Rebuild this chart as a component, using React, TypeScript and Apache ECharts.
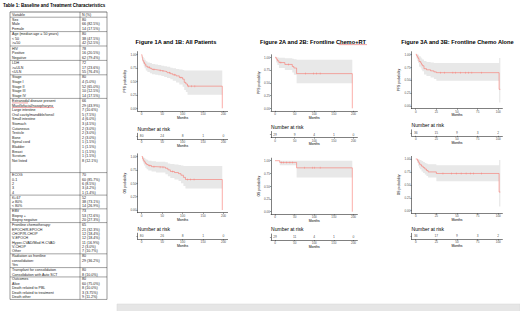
import React, { useEffect, useRef } from 'react';
import * as echarts from 'echarts';

// ---------------- DATA ----------------
const grpHeader = [['Variable', 'N (%)']];
const grpSex = [['Sex', '80'], ['Male', '66 (82.5%)'], ['Female', '14 (17.5%)']];
const grpAge = [['Age (median age = 50 years)', '80'], ['< 50', '38 (47.5%)'], ['>=50', '42 (52.5%)']];
const grpHiv = [['HIV', '78'], ['Positive', '16 (20.5%)'], ['Negative', '62 (79.4%)']];
const grpLdh = [['LDH', '72'], ['>=ULN', '17 (23.6%)'], ['<ULN', '55 (76.4%)']];
const grpStage = [['Stage', '80'], ['Stage I', '4 (5.0%)'], ['Stage II', '52 (65.0%)'], ['Stage III', '10 (12.5%)'], ['Stage IV', '14 (17.5%)']];
const grpExtranodal = [
  ['Extranodal disease present', '66'], ['Maxillofacial/nasopharynx', '29 (43.9%)'], ['Large intestine', '7 (10.6%)'],
  ['Oral cavity/mandible/tonsil', '5 (7.5%)'], ['Small intestine', '4 (6.0%)'], ['Stomach', '3 (4.5%)'],
  ['Cutaneous', '2 (3.0%)'], ['Testicle', '2 (3.0%)'], ['Bone', '2 (3.0%)'], ['Spinal cord', '1 (1.5%)'],
  ['Bladder', '1 (1.5%)'], ['Breast', '1 (1.5%)'], ['Scrotum', '1 (1.5%)'], ['Not listed', '8 (12.1%)'], ['', ''], ['', ''],
];
const grpEcog = [['ECOG', '70'], ['0-1', '60 (85.7%)'], ['2', '6 (8.5%)'], ['3', '3 (4.2%)'], ['4', '1 (1.4%)']];
const grpKi67 = [['Ki-67', '52'], ['\u2265 80%', '38 (73.1%)'], ['< 80%', '14 (26.9%)']];
const grpEbv = [['EBV', '73'], ['Biopsy +', '53 (72.6%)'], ['Biopsy negative', '20 (27.3%)']];
const grpChemo = [
  ['Frontline chemotherapy:', '65'], ['EPOCH/R-EPOCH', '21 (32.3%)'], ['CHOP/R-CHOP', '12 (18.4%)'], ['V-EPOCH', '12 (18.4%)'],
  ['Hyper-CVAD/Mod H-CVAD', '11 (16.9%)'], ['V-CHOP', '2 (3.0%)'], ['Other', '7 (10.7%)'],
];
const grpRadiation = [['Radiation as frontline', '80'], ['consolidation:', '29 (36.2%)'], ['Yes', '']];
const grpTransplant = [['Transplant for consolidation', '80'], ['Consolidation with Auto SCT', '8 (10.0%)']];
const grpOutcomes = [
  ['Outcomes', '80'], ['Alive', '60 (75.0%)'], ['Death related to PBL', '8 (10.0%)'],
  ['Death related to treatment', '3 (3.75%)'], ['Death other', '9 (11.2%)'],
];
const tableGroups = [grpHeader, grpSex, grpAge, grpHiv, grpLdh, grpStage, grpExtranodal, grpEcog, grpKi67, grpEbv, grpChemo, grpRadiation, grpTransplant, grpOutcomes];

const tableTitle = 'Table 1: Baseline and Treatment Characteristics';
const figureTitles = ['Figure 1A and 1B: All Patients', 'Figure 2A and 2B: Frontline Chemo+RT', 'Figure 3A and 3B: Frontline Chemo Alone'];

const yTicks = [0, 0.25, 0.5, 0.75, 1];
const xTicks200 = [0, 50, 100, 150, 200];
const xTicks100 = [0, 25, 50, 75, 100];

// Fig 1A: all patients PFS
const allPfsTimes = [0, 1, 2, 3, 5, 7, 10, 14, 20, 25, 33, 40, 48, 55, 62, 70, 76, 84, 92, 100, 104, 108, 112, 197];
const allPfsSurv = [1, 0.96, 0.92, 0.88, 0.85, 0.82, 0.78, 0.76, 0.74, 0.72, 0.71, 0.7, 0.69, 0.68, 0.66, 0.64, 0.62, 0.6, 0.57, 0.54, 0.48, 0.45, 0.41, 0];
const allPfsHi = [1, 0.99, 0.97, 0.95, 0.93, 0.9, 0.87, 0.85, 0.84, 0.82, 0.81, 0.8, 0.79, 0.78, 0.77, 0.75, 0.74, 0.73, 0.72, 0.71, 0.7, 0.7, 0.7, 0.7];
const allPfsLo = [1, 0.92, 0.86, 0.82, 0.78, 0.74, 0.7, 0.67, 0.65, 0.63, 0.62, 0.61, 0.6, 0.58, 0.56, 0.54, 0.51, 0.48, 0.44, 0.4, 0.34, 0.3, 0.25, 0.25];
const allPfsCensor = [18, 30, 45, 52, 68, 80, 96, 115, 122, 130];
const allPfsRisk = [80, 24, 8, 1, 0];

// Fig 1B: all patients OS
const allOsTimes = [0, 2, 4, 6, 9, 12, 16, 24, 35, 58, 64, 70, 80, 90, 96, 102, 107, 197];
const allOsSurv = [1, 0.96, 0.93, 0.9, 0.87, 0.85, 0.83, 0.81, 0.8, 0.78, 0.75, 0.72, 0.7, 0.68, 0.65, 0.61, 0.57, 0];
const allOsHi = [1, 1, 0.99, 0.97, 0.95, 0.94, 0.92, 0.91, 0.9, 0.89, 0.87, 0.86, 0.85, 0.84, 0.83, 0.82, 0.82, 0.82];
const allOsLo = [1, 0.91, 0.87, 0.83, 0.79, 0.76, 0.74, 0.72, 0.7, 0.67, 0.63, 0.6, 0.57, 0.54, 0.5, 0.45, 0.4, 0.4];
const allOsCensor = [20, 30, 45, 52, 75, 112, 120, 128];
const allOsRisk = [80, 26, 8, 1, 0];

// Fig 2A: chemo + RT PFS
const rtPfsTimes = [0, 3, 6, 10, 25, 44, 48, 55, 197];
const rtPfsSurv = [1, 0.966, 0.931, 0.897, 0.86, 0.82, 0.79, 0.68, 0];
const rtPfsHi = [1, 1, 0.995, 0.99, 0.98, 0.97, 0.96, 0.95, 0.95];
const rtPfsLo = [1, 0.9, 0.85, 0.79, 0.75, 0.7, 0.66, 0.49, 0.49];
const rtPfsCensor = [15, 35, 77, 98, 106, 115];
const rtPfsRisk = [29, 9, 4, 1, 0];

// Fig 2B: chemo + RT OS
const rtOsTimes = [0, 12, 55, 197];
const rtOsSurv = [1, 0.966, 0.86, 0];
const rtOsHi = [1, 1, 1, 1];
const rtOsLo = [1, 0.91, 0.67, 0.67];
const rtOsCensor = [16, 22, 30, 38, 45, 75, 95, 101, 115];
const rtOsRisk = [29, 11, 4, 1, 0];

// Fig 3A: chemo alone PFS
const chPfsTimes = [0, 1, 2, 3, 4, 6, 7, 8, 10, 13, 18, 22, 25, 101, 102.5];
const chPfsSurv = [1, 0.972, 0.944, 0.917, 0.861, 0.833, 0.806, 0.778, 0.722, 0.7, 0.68, 0.66, 0.645, 0.322, 0.322];
const chPfsHi = [1, 1, 1, 0.99, 0.96, 0.94, 0.92, 0.9, 0.87, 0.85, 0.84, 0.83, 0.83, 0.93, 0.93];
const chPfsLo = [1, 0.92, 0.87, 0.83, 0.76, 0.73, 0.7, 0.67, 0.61, 0.58, 0.55, 0.52, 0.49, 0.07, 0.07];
const chPfsCensor = [30, 35, 45, 48, 54, 60, 64, 68, 80];
const chPfsRisk = [36, 15, 9, 3, 2];

// Fig 3B: chemo alone OS
const chOsTimes = [0, 2, 3, 4, 5, 7, 9, 11, 13, 15, 25, 101, 102.5];
const chOsSurv = [1, 0.972, 0.944, 0.917, 0.889, 0.861, 0.833, 0.806, 0.778, 0.75, 0.72, 0.36, 0.36];
const chOsHi = [1, 1, 1, 0.99, 0.98, 0.96, 0.94, 0.92, 0.91, 0.9, 0.88, 0.98, 0.98];
const chOsLo = [1, 0.92, 0.87, 0.83, 0.8, 0.76, 0.73, 0.7, 0.67, 0.64, 0.57, 0.08, 0.08];
const chOsCensor = [33, 43, 49, 55, 61, 66, 70, 80];
const chOsRisk = [36, 17, 9, 3, 2];

// ---------------- STYLE / LAYOUT ----------------
const FONT = '"Liberation Sans", Arial, sans-serif';
const RED = '#F8766D';
const BAND = '#e8e8e8';

const panels = [
  { yName: 'PFS probability', times: allPfsTimes, surv: allPfsSurv, hi: allPfsHi, lo: allPfsLo, censor: allPfsCensor, risk: allPfsRisk, ticks: xTicks200, xmin: -10, xmax: 210, left: 137.6, width: 90, top: 51.6, height: 59.4, nameGap: 8.5, riskAxis: 139.3 },
  { yName: 'OS probability', times: allOsTimes, surv: allOsSurv, hi: allOsHi, lo: allOsLo, censor: allOsCensor, risk: allOsRisk, ticks: xTicks200, xmin: -10, xmax: 210, left: 137.6, width: 90, top: 153.8, height: 58.9, nameGap: 8.5, riskAxis: 239.2 },
  { yName: 'PFS probability', times: rtPfsTimes, surv: rtPfsSurv, hi: rtPfsHi, lo: rtPfsLo, censor: rtPfsCensor, risk: rtPfsRisk, ticks: xTicks200, xmin: -10, xmax: 210, left: 271.1, width: 86.3, top: 54.75, height: 56.1, nameGap: 10.5, riskAxis: 137.5 },
  { yName: 'OS probability', times: rtOsTimes, surv: rtOsSurv, hi: rtOsHi, lo: rtOsLo, censor: rtOsCensor, risk: rtOsRisk, ticks: xTicks200, xmin: -10, xmax: 210, left: 271.1, width: 86.3, top: 158.15, height: 56.1, nameGap: 10.5, riskAxis: 240 },
  { yName: 'PFS probability', times: chPfsTimes, surv: chPfsSurv, hi: chPfsHi, lo: chPfsLo, censor: chPfsCensor, risk: chPfsRisk, ticks: xTicks100, xmin: -5, xmax: 105, left: 411.6, width: 90.8, top: 51.7, height: 56.9, nameGap: 7.5, riskAxis: 135.8 },
  { yName: 'OS probability', times: chOsTimes, surv: chOsSurv, hi: chOsHi, lo: chOsLo, censor: chOsCensor, risk: chOsRisk, ticks: xTicks100, xmin: -5, xmax: 105, left: 411.6, width: 90.8, top: 156.4, height: 56.9, nameGap: 7.5, riskAxis: 239.3 },
];
const titleCenters = [176, 313, 457.5];

function survAt(times: number[], surv: number[], t: number) {
  let v = surv[0];
  for (let i = 0; i < times.length; i++) if (times[i] <= t) v = surv[i];
  return v;
}

function txt(text: string, x: number, y: number, size: number, opts: any = {}) {
  return {
    type: 'text', x, y, silent: true,
    style: {
      text, fontSize: size, fontFamily: FONT, fontWeight: opts.bold ? 'bold' : 'normal',
      fill: opts.fill || '#111', align: opts.align || 'left', verticalAlign: 'middle',
    },
  };
}
function hl(x1: number, y1: number, x2: number, y2: number, color = '#333', w = 0.45) {
  return { type: 'line', silent: true, shape: { x1, y1, x2, y2 }, style: { stroke: color, lineWidth: w } };
}

function buildGraphic() {
  const g: any[] = [];
  g.push(txt(tableTitle, 3, 5.5, 4.5, { bold: true, fill: '#000' }));
  const X0 = 10, X1 = 107, XC = 80, TOP = 12, PT = 0.35, PB = 0.25;
  let y = TOP;
  g.push(hl(X0, y, X1, y, '#222', 0.6));
  tableGroups.forEach((grp, gi) => {
    const LH = gi <= 6 ? 4.6 : 4.38;
    y += PT;
    for (const row of grp) {
      const cy = y + LH / 2;
      if (row[0]) g.push(txt(row[0], X0 + 2, cy, 3.6, { fill: '#1a1a1a' }));
      if (row[1]) g.push(txt(row[1], XC + 2, cy, 3.6, { fill: '#1a1a1a' }));
      if (row[0] === 'Extranodal disease present') g.push(hl(X0 + 2, cy + 1.9, X0 + 18, cy + 1.9, '#e23b3b', 0.45));
      if (row[0] === 'Maxillofacial/nasopharynx') g.push(hl(X0 + 2, cy + 1.9, X0 + 44, cy + 1.9, '#e23b3b', 0.45));
      y += LH;
    }
    y += PB;
    g.push(hl(X0, y, X1, y, '#333', 0.45));
  });
  g.push(hl(X0, TOP, X0, y, '#333', 0.5));
  g.push(hl(XC, TOP, XC, y, '#333', 0.45));
  g.push(hl(X1, TOP, X1, y, '#333', 0.5));

  figureTitles.forEach((t, i) => g.push(txt(t, titleCenters[i], 41.5, 5.7, { bold: true, fill: '#000', align: 'center' })));
  g.push(hl(338.5, 44.6, 367, 44.6, '#e23b3b', 0.45));

  panels.forEach((p) => {
    g.push(txt('Number at risk', p.left, p.riskAxis - 10.7, 5.0, { fill: '#000' }));
  });

  g.push({ type: 'rect', silent: true, shape: { x: 117, y: 304, width: 403, height: 8 }, style: { fill: '#e6e6e6', stroke: '#d6d6d6', lineWidth: 0.5 } });
  return g;
}

function bandRenderer(p: any) {
  return (_params: any, api: any) => {
    const n = p.times.length;
    const top: number[][] = [];
    const bottom: number[][] = [];
    for (let k = 0; k < n; k++) {
      const t0 = p.times[k];
      const t1 = k + 1 < n ? p.times[k + 1] : p.times[k];
      top.push(api.coord([t0, p.hi[k]]), api.coord([t1, p.hi[k]]));
      bottom.push(api.coord([t0, p.lo[k]]), api.coord([t1, p.lo[k]]));
    }
    const points = top.concat(bottom.reverse());
    return { type: 'polygon', shape: { points }, style: { fill: BAND, stroke: 'none' }, silent: true };
  };
}

function buildOption() {
  const grid: any[] = [];
  const xAxis: any[] = [];
  const yAxis: any[] = [];
  const series: any[] = [];
  const axisLine = { show: true, onZero: false, lineStyle: { color: '#000', width: 0.5 } };
  const tickStyle = { color: '#333', width: 0.5 };
  const labelBase = { fontSize: 3, color: '#4d4d4d', fontFamily: FONT };
  const nameStyle = { fontSize: 3.4, color: '#000', fontFamily: FONT };

  panels.forEach((p, i) => {
    grid.push({ left: p.left, top: p.top, width: p.width, height: p.height, containLabel: false, outerBoundsMode: 'none' });
    xAxis.push({
      type: 'value', gridIndex: i, min: p.xmin, max: p.xmax, axisLine,
      axisTick: { show: true, length: 1.2, customValues: p.ticks, lineStyle: tickStyle },
      axisLabel: { show: true, customValues: p.ticks, margin: 1.3, ...labelBase },
      splitLine: { show: false }, name: 'Months', nameLocation: 'middle', nameGap: 5.3, nameTextStyle: nameStyle,
    });
    yAxis.push({
      type: 'value', gridIndex: i, min: -0.05, max: 1.05, axisLine,
      axisTick: { show: true, length: 1.2, customValues: yTicks, lineStyle: tickStyle },
      axisLabel: { show: true, customValues: yTicks, margin: 1.2, formatter: (v: number) => v.toFixed(2), ...labelBase },
      splitLine: { show: false }, name: p.yName, nameLocation: 'middle', nameGap: p.nameGap, nameRotate: 90,
      nameTextStyle: { ...nameStyle, fontSize: 3.3 },
    });
    series.push({
      type: 'custom', coordinateSystem: 'cartesian2d', xAxisIndex: i, yAxisIndex: i, silent: true, z: 1,
      renderItem: bandRenderer(p), data: [[p.times[0], p.hi[0]]],
    });
    series.push({
      type: 'line', xAxisIndex: i, yAxisIndex: i, step: 'end', symbol: 'none', silent: true, z: 3,
      lineStyle: { color: RED, width: 0.6 }, data: p.times.map((t, k) => [t, p.surv[k]]),
    });
    series.push({
      type: 'scatter', xAxisIndex: i, yAxisIndex: i, symbol: 'rect', symbolSize: [0.45, 2], silent: true, z: 4,
      itemStyle: { color: RED }, data: p.censor.map((t) => [t, survAt(p.times, p.surv, t)]),
    });
  });

  panels.forEach((p, i) => {
    const gi = 6 + i;
    grid.push({ left: p.left, top: p.riskAxis - 6, width: p.width, height: 6, containLabel: false, outerBoundsMode: 'none' });
    xAxis.push({
      type: 'value', gridIndex: gi, min: p.xmin, max: p.xmax, axisLine,
      axisTick: { show: true, length: 1.2, customValues: p.ticks, lineStyle: tickStyle },
      axisLabel: { show: true, customValues: p.ticks, margin: 1.3, ...labelBase },
      splitLine: { show: false }, name: 'Months', nameLocation: 'middle', nameGap: 5.3, nameTextStyle: nameStyle,
    });
    yAxis.push({
      type: 'value', gridIndex: gi, min: 0, max: 1, axisLine,
      axisTick: { show: true, length: 1.2, customValues: [0.5], lineStyle: tickStyle },
      axisLabel: { show: false }, splitLine: { show: false },
    });
    series.push({
      type: 'scatter', xAxisIndex: gi, yAxisIndex: gi, symbolSize: 1, silent: true,
      itemStyle: { color: 'rgba(0,0,0,0)' },
      label: { show: true, position: 'inside', formatter: (q: any) => String(q.value[2]), fontSize: 3.3, color: '#111', fontFamily: FONT },
      data: p.ticks.map((t, k) => [t, 0.5, p.risk[k]]),
    });
  });

  return {
    animation: false,
    backgroundColor: '#ffffff',
    grid, xAxis, yAxis, series,
    graphic: { elements: buildGraphic() },
  };
}

export default function App() {
  const ref = useRef<HTMLDivElement>(null);
  useEffect(() => {
    document.body.style.margin = '0';
    if (!ref.current) return;
    const chart = echarts.init(ref.current, null, { renderer: 'svg' });
    chart.setOption(buildOption() as any);
    return () => chart.dispose();
  }, []);
  return <div ref={ref} style={{ width: 520, height: 311 }} />;
}
